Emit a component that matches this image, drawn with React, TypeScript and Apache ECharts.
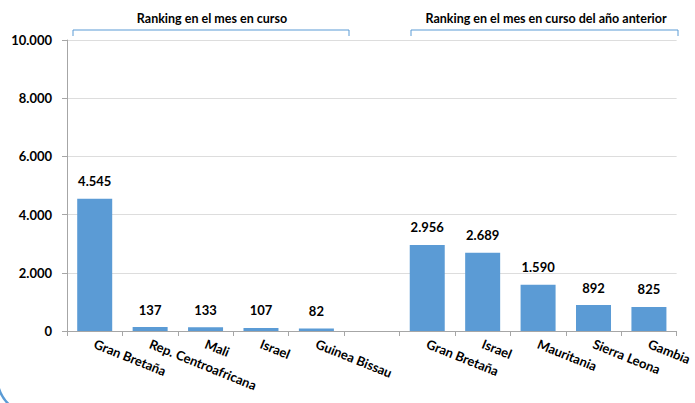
import React, { useEffect, useRef } from "react";
import * as echarts from "echarts";

const categories = [
  "Gran Bretaña",
  "Rep. Centroafricana",
  "Mali",
  "Israel",
  "Guinea Bissau",
  "",
  "Gran Bretaña",
  "Israel",
  "Mauritania",
  "Sierra Leona",
  "Gambia",
];
const values: (number | null)[] = [4545, 137, 133, 107, 82, null, 2956, 2689, 1590, 892, 825];
const groupTitles = ["Ranking en el mes en curso", "Ranking en el mes en curso del año anterior"];
const yTicks = { min: 0, max: 10000, interval: 2000 };

const FONT = "Lato, 'Liberation Sans', sans-serif";
const BLUE = "#5B9BD5";

const fmt = (n: number) => String(Math.round(n)).replace(/\B(?=(\d{3})+(?!\d))/g, ".");

export default function App() {
  const ref = useRef<HTMLDivElement>(null);
  useEffect(() => {
    if (!ref.current) return;
    const chart = echarts.init(ref.current, null, { renderer: "svg" });
    chart.setOption({
      animation: false,
      backgroundColor: "#ffffff",
      grid: { left: 67, right: 16, top: 40, bottom: 72, containLabel: false },
      xAxis: {
        type: "category",
        data: categories,
        axisLine: { lineStyle: { color: "#A6A6A6", width: 1 } },
        axisTick: { show: true, length: 5, lineStyle: { color: "#A6A6A6" } },
        axisLabel: {
          interval: 0,
          rotate: -22,
          margin: 12,
          fontFamily: FONT,
          fontWeight: "bold",
          fontSize: 13,
          color: "#000",
        },
      },
      yAxis: {
        type: "value",
        min: yTicks.min,
        max: yTicks.max,
        interval: yTicks.interval,
        axisLine: { show: true, lineStyle: { color: "#A6A6A6", width: 1 } },
        axisTick: { show: true, length: 5, lineStyle: { color: "#A6A6A6" } },
        splitLine: { show: true, lineStyle: { color: "#DDDDDD", width: 1 } },
        axisLabel: {
          margin: 15,
          fontFamily: FONT,
          fontWeight: "bold",
          fontSize: 13,
          color: "#000",
          formatter: (v: number) => fmt(v),
        },
      },
      series: [
        {
          type: "bar",
          data: values,
          barWidth: 35,
          itemStyle: { color: BLUE },
          label: {
            show: true,
            position: "top",
            distance: 11,
            fontFamily: FONT,
            fontWeight: "bold",
            fontSize: 13,
            color: "#000",
            formatter: (p: any) => (p.value == null ? "" : fmt(p.value)),
          },
        },
      ],
      graphic: [
        {
          type: "polyline",
          shape: { points: [[73, 36], [73, 30], [349, 30], [349, 36]] },
          style: { stroke: BLUE, lineWidth: 1, fill: "none" },
        },
        {
          type: "polyline",
          shape: { points: [[411, 36], [411, 30], [678, 30], [678, 36]] },
          style: { stroke: BLUE, lineWidth: 1, fill: "none" },
        },
        {
          type: "text",
          x: 212,
          y: 18,
          style: {
            text: groupTitles[0],
            fontFamily: FONT,
            fontWeight: "bold",
            fontSize: 12.5,
            fill: "#000",
            align: "center",
            verticalAlign: "middle",
          },
        },
        {
          type: "text",
          x: 546,
          y: 18,
          style: {
            text: groupTitles[1],
            fontFamily: FONT,
            fontWeight: "bold",
            fontSize: 12.5,
            fill: "#000",
            align: "center",
            verticalAlign: "middle",
          },
        },
        {
          type: "rect",
          shape: { x: -3, y: -60, width: 900, height: 476, r: 40 },
          style: { stroke: BLUE, lineWidth: 2.5, fill: "none" },
          silent: true,
        },
      ],
    });
    return () => chart.dispose();
  }, []);
  return (
    <div
      ref={ref}
      style={{ position: "fixed", left: 0, top: 0, width: 695, height: 403 }}
    />
  );
}
